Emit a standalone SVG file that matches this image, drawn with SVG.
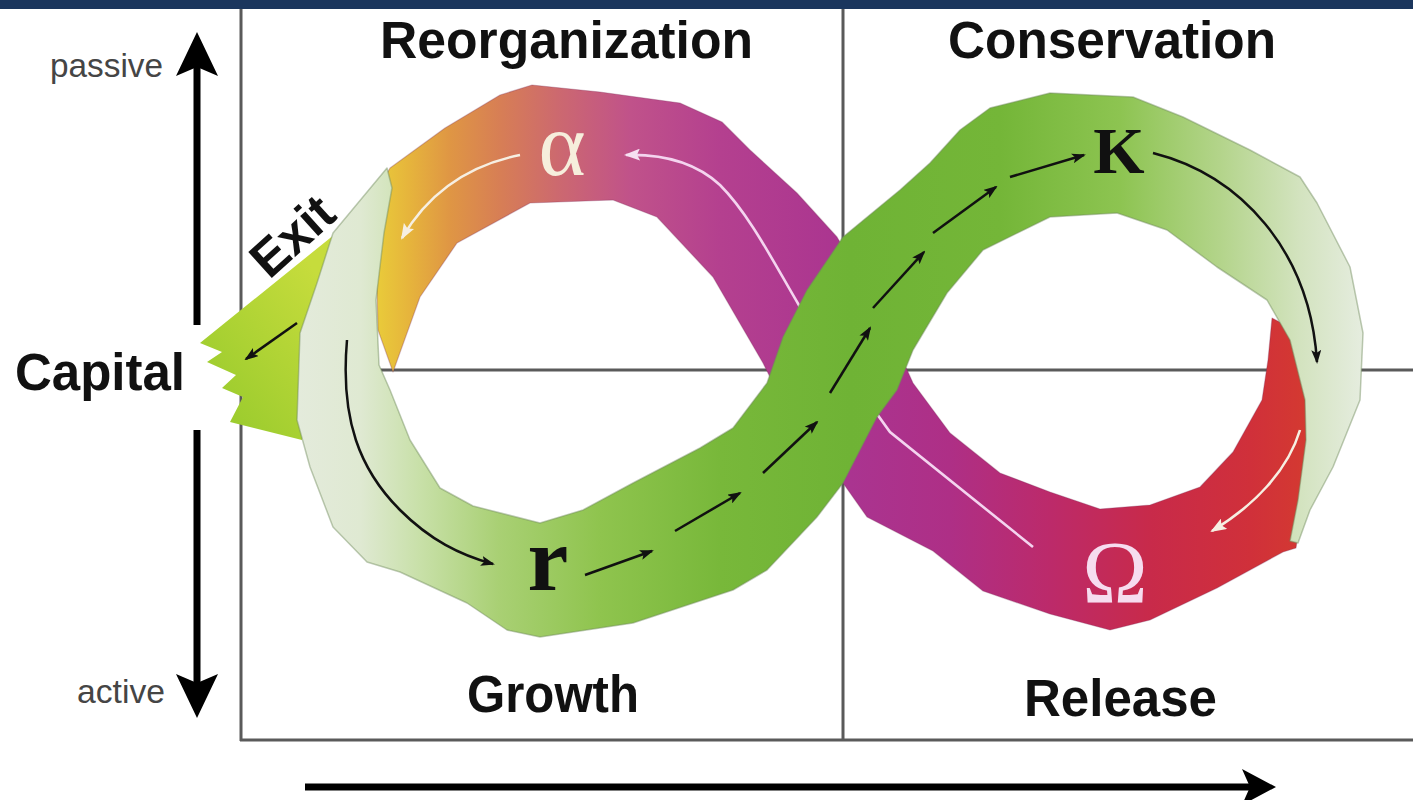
<svg xmlns="http://www.w3.org/2000/svg" width="1413" height="800" viewBox="0 0 1413 800">
<style>
.lbl{font-family:"Liberation Sans",Arial,sans-serif;font-weight:bold;font-size:51px;fill:#111}
.ax{font-family:"Liberation Sans",Arial,sans-serif;font-size:33px;fill:#454545}
.greek{font-family:"Liberation Serif","Times New Roman",serif}
.frame{stroke:#5a5a5a;stroke-width:3;fill:none}
.blk{stroke:#111;stroke-width:2.5;fill:none}
.wht{stroke:#f6efe2;stroke-width:2.6;fill:none}
.pnk{stroke:#f4d4ef;stroke-width:2.6;fill:none}
</style>
<defs>
<linearGradient id="gGreen" gradientUnits="userSpaceOnUse" x1="295" y1="0" x2="1365" y2="0">
<stop offset="0" stop-color="#e4ebdc"/>
<stop offset="0.061" stop-color="#dfe9d2"/>
<stop offset="0.117" stop-color="#c8e0a8"/>
<stop offset="0.19" stop-color="#a9d074"/>
<stop offset="0.285" stop-color="#8fc44e"/>
<stop offset="0.397" stop-color="#78b83a"/>
<stop offset="0.519" stop-color="#6fb335"/>
<stop offset="0.659" stop-color="#74b638"/>
<stop offset="0.771" stop-color="#8dc451"/>
<stop offset="0.864" stop-color="#b3d48a"/>
<stop offset="0.939" stop-color="#d3e3bf"/>
<stop offset="1" stop-color="#e6ede0"/>
</linearGradient>
<linearGradient id="gMag" gradientUnits="userSpaceOnUse" x1="375" y1="0" x2="1310" y2="0">
<stop offset="0.005" stop-color="#e9c93a"/>
<stop offset="0.037" stop-color="#e6b43c"/>
<stop offset="0.08" stop-color="#df9644"/>
<stop offset="0.134" stop-color="#d77e55"/>
<stop offset="0.198" stop-color="#cc6870"/>
<stop offset="0.273" stop-color="#c0528a"/>
<stop offset="0.369" stop-color="#b4408f"/>
<stop offset="0.508" stop-color="#aa3490"/>
<stop offset="0.615" stop-color="#ae2f86"/>
<stop offset="0.722" stop-color="#bc2a6a"/>
<stop offset="0.829" stop-color="#c82a4a"/>
<stop offset="0.936" stop-color="#d0303a"/>
<stop offset="1" stop-color="#d43a30"/>
</linearGradient>
<linearGradient id="gExit" gradientUnits="userSpaceOnUse" x1="205" y1="390" x2="330" y2="290">
<stop offset="0" stop-color="#9ccc2e"/>
<stop offset="1" stop-color="#c6dc3c"/>
</linearGradient>
<marker id="mB" viewBox="0 0 14 10" refX="12" refY="5" markerWidth="14" markerHeight="10" markerUnits="userSpaceOnUse" orient="auto">
<path d="M0,0 L14,5 L0,10 L3,5 z" fill="#111"/>
</marker>
<marker id="mW" viewBox="0 0 16 12" refX="14" refY="6" markerWidth="16" markerHeight="12" markerUnits="userSpaceOnUse" orient="auto">
<path d="M0,0 L16,6 L0,12 L3,6 z" fill="#f6efe2"/>
</marker>
<marker id="mP" viewBox="0 0 16 12" refX="14" refY="6" markerWidth="16" markerHeight="12" markerUnits="userSpaceOnUse" orient="auto">
<path d="M0,0 L16,6 L0,12 L3,6 z" fill="#f6e0f2"/>
</marker>
</defs>
<rect width="1413" height="800" fill="#ffffff"/>
<rect id="topbar" x="0" y="0" width="1413" height="9" fill="#1b365d"/>

<g id="frame">
<line class="frame" x1="241" y1="9" x2="241" y2="741"/>
<line class="frame" x1="240" y1="740" x2="1413" y2="740"/>
<line class="frame" x1="843" y1="9" x2="843" y2="740"/>
<line class="frame" x1="241" y1="370" x2="1413" y2="370"/>
</g>

<g id="band-release-reorganization">
<path fill="url(#gMag)" stroke="#7a2a55" stroke-opacity="0.3" stroke-width="1.2" stroke-linejoin="round" d="M386,175 L390,168 L445,128 L500,95 L532,85 L600,92 L680,103 L722,122 L750,150 L797,193 L837,237 L880,310 L913,383 L950,433 L1000,473 L1050,492 L1100,509 L1150,505 L1200,487 L1233,452 L1262,400 L1268,360 L1272,318 L1295,330 L1310,400 L1308,470 L1296,548 L1283,552 L1217,588 L1150,620 L1110,630 L1050,614 L983,591 L933,551 L867,517 L843,483 L800,430 L770,377 L763,363 L713,277 L657,217 L613,200 L530,203 L457,243 L420,297 L393,372 L378,330 L376,250 Z"/>
<path class="pnk" marker-end="url(#mP)" d="M1033,547 L890,432 L800,307 C775,265 750,215 720,185 C695,162 662,154 626,155"/>
<path class="wht" marker-end="url(#mW)" d="M520,155 C470,165 430,190 402,238"/>
<path class="wht" marker-end="url(#mW)" d="M1300,430 C1288,470 1255,505 1212,531"/>
</g>

<g id="band-exit">
<path fill="url(#gExit)" d="M345,226 L200,343 L222,352 L207,362 L236,375 L222,388 L243,397 L230,422 L302,440 Z"/>
</g>

<g id="band-growth-conservation">
<path fill="url(#gGreen)" stroke="#6f8a5a" stroke-opacity="0.45" stroke-width="1.5" stroke-linejoin="round" d="M387,168 L392,188 L384,233 L376,300 L379,365 L390,390 L410,440 L440,488 L473,506 L540,523 L583,510 L633,483 L700,448 L733,428 L767,383 L783,337 L807,290 L843,237 L900,190 L930,163 L960,130 L990,108 L1050,93 L1133,97 L1183,117 L1250,150 L1300,177 L1317,203 L1350,267 L1363,333 L1360,400 L1333,467 L1310,510 L1298,543 L1290,541 L1298,500 L1306,440 L1305,400 L1290,340 L1267,300 L1217,267 L1167,230 L1117,213 L1050,217 L983,250 L947,293 L913,350 L897,390 L877,417 L843,483 L817,517 L767,570 L733,590 L633,623 L540,637 L507,630 L467,603 L400,572 L367,562 L333,527 L310,467 L297,420 L300,333 L317,283 L333,233 Z"/>
</g>

<g id="connectors">
<line class="blk" x1="297" y1="323" x2="246" y2="359" marker-end="url(#mB)"/>
<path class="blk" marker-end="url(#mB)" d="M347,340 C340,420 360,470 400,510 C430,540 460,555 493,564"/>
<line class="blk" x1="585" y1="575" x2="652" y2="551" marker-end="url(#mB)"/>
<line class="blk" x1="675" y1="531" x2="740" y2="493" marker-end="url(#mB)"/>
<line class="blk" x1="763" y1="473" x2="817" y2="422" marker-end="url(#mB)"/>
<line class="blk" x1="830" y1="393" x2="870" y2="328" marker-end="url(#mB)"/>
<line class="blk" x1="873" y1="308" x2="924" y2="252" marker-end="url(#mB)"/>
<line class="blk" x1="933" y1="233" x2="996" y2="187" marker-end="url(#mB)"/>
<line class="blk" x1="1010" y1="177" x2="1084" y2="155" marker-end="url(#mB)"/>
<path class="blk" marker-end="url(#mB)" d="M1153,153 C1240,175 1310,250 1317,362"/>
</g>

<g id="phase-symbols">
<text class="greek" x="562" y="175" font-size="90" text-anchor="middle" fill="#f6eedc">α</text>
<text class="greek" x="1119" y="173" font-size="66" font-weight="bold" text-anchor="middle" fill="#111">K</text>
<text class="greek" x="548" y="590" font-size="92" font-weight="bold" text-anchor="middle" fill="#111">r</text>
<text class="greek" x="1115" y="602" font-size="88" text-anchor="middle" fill="#f6dcef">Ω</text>
</g>

<g id="labels">
<text class="lbl" x="380" y="58" textLength="373" lengthAdjust="spacingAndGlyphs">Reorganization</text>
<text class="lbl" x="948" y="58" textLength="328" lengthAdjust="spacingAndGlyphs">Conservation</text>
<text class="lbl" x="467" y="712" textLength="172" lengthAdjust="spacingAndGlyphs">Growth</text>
<text class="lbl" x="1024" y="716" textLength="193" lengthAdjust="spacingAndGlyphs">Release</text>
<text class="lbl" x="15" y="390" textLength="170" lengthAdjust="spacingAndGlyphs">Capital</text>
<text class="lbl" x="304" y="249" font-size="42" text-anchor="middle" transform="rotate(-42 304 249)">Exit</text>
<text class="ax" x="50" y="77" textLength="113" lengthAdjust="spacingAndGlyphs">passive</text>
<text class="ax" x="77" y="703" textLength="88" lengthAdjust="spacingAndGlyphs">active</text>
</g>

<g id="axes">
<line x1="197" y1="325" x2="197" y2="66" stroke="#000" stroke-width="7"/>
<polygon points="197,32 218,76 197,67 176,76" fill="#000"/>
<line x1="197" y1="430" x2="197" y2="684" stroke="#000" stroke-width="7"/>
<polygon points="197,718 218,674 197,683 176,674" fill="#000"/>
<line x1="305" y1="787" x2="1252" y2="787" stroke="#000" stroke-width="7"/>
<polygon points="1276,787 1242,769 1250,787 1242,805" fill="#000"/>
</g>
</svg>
